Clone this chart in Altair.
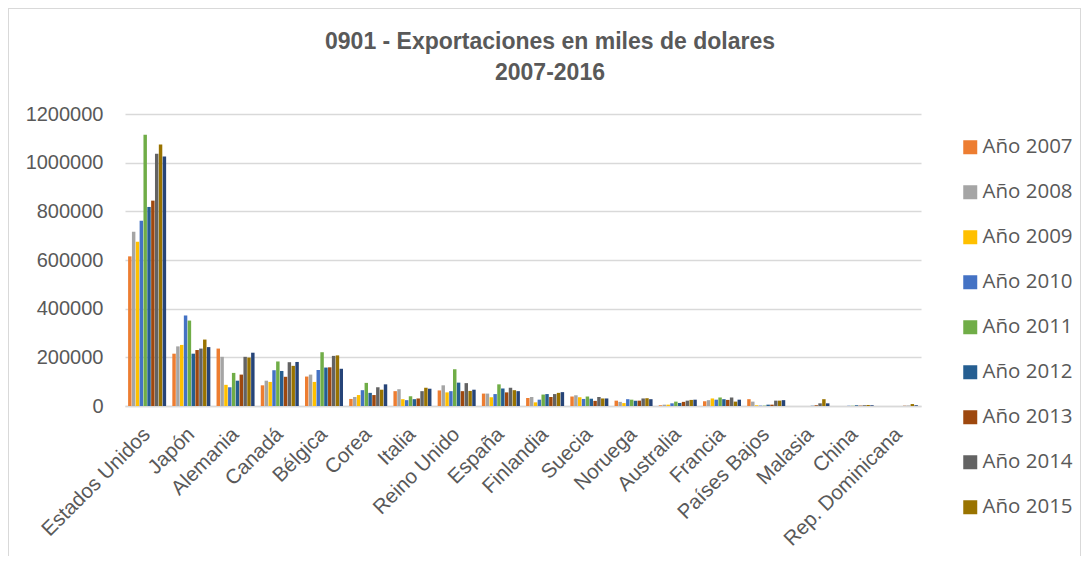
import altair as alt
import pandas as pd

countries = ["Estados Unidos", "Japón", "Alemania", "Canadá", "Bélgica", "Corea",
             "Italia", "Reino Unido", "España", "Finlandia", "Suecia", "Noruega",
             "Australia", "Francia", "Países Bajos", "Malasia", "China", "Rep. Dominicana"]

years = ["Año 2007", "Año 2008", "Año 2009", "Año 2010", "Año 2011",
         "Año 2012", "Año 2013", "Año 2014", "Año 2015", "Año 2016"]

colors = ["#ED7D31", "#A5A5A5", "#FFC000", "#4472C4", "#70AD47",
          "#255E91", "#9E480E", "#636363", "#997300", "#264478"]

title_lines = ["0901 - Exportaciones en miles de dolares", "2007-2016"]

# values per country, years 2007..2016
estados_unidos = [615000, 716000, 675000, 761000, 1115000, 818000, 844000, 1037000, 1075000, 1025000]
japon = [215000, 245000, 251000, 372000, 351000, 215000, 230000, 236000, 273000, 242000]
alemania = [236000, 202000, 87000, 77000, 136000, 104000, 129000, 202000, 199000, 219000]
canada = [85000, 104000, 99000, 147000, 183000, 144000, 120000, 180000, 165000, 181000]
belgica = [121000, 129000, 99000, 148000, 221000, 158000, 159000, 206000, 208000, 153000]
corea = [29000, 37000, 45000, 65000, 95000, 54000, 45000, 77000, 67000, 89000]
italia = [61000, 69000, 28000, 24000, 40000, 28000, 31000, 61000, 75000, 71000]
reino_unido = [64000, 85000, 56000, 61000, 151000, 96000, 61000, 94000, 62000, 67000]
espana = [51000, 51000, 36000, 49000, 89000, 72000, 56000, 75000, 65000, 61000]
finlandia = [33000, 37000, 15000, 26000, 47000, 49000, 37000, 49000, 54000, 57000]
suecia = [39000, 44000, 36000, 29000, 39000, 30000, 21000, 37000, 31000, 31000]
noruega = [22000, 17000, 12000, 28000, 26000, 22000, 22000, 31000, 32000, 28000]
australia = [3000, 5500, 5500, 11000, 18000, 12500, 17000, 22000, 25000, 26000]
francia = [19500, 24000, 31000, 26000, 35000, 28000, 25000, 35000, 18000, 26000]
paises_bajos = [28000, 18000, 3000, 1500, 1500, 5500, 5500, 22000, 22000, 24000]
malasia = [0, 0, 0, 0, 0, 1000, 3000, 11000, 28000, 11000]
china = [0, 0, 0, 1000, 1000, 3000, 1500, 3000, 4000, 3000]
rep_dominicana = [0, 0, 0, 0, 0, 0, 1000, 1000, 8000, 3000]

series = [estados_unidos, japon, alemania, canada, belgica, corea, italia, reino_unido,
          espana, finlandia, suecia, noruega, australia, francia, paises_bajos,
          malasia, china, rep_dominicana]

y_ticks = [0, 200000, 400000, 600000, 800000, 1000000, 1200000]

rows = []
for c, vals in zip(countries, series):
    for yname, v in zip(years, vals):
        rows.append({"pais": c, "anio": yname, "valor": v})
df = pd.DataFrame(rows)

W, H = 796, 292
PAD = {"left": 117, "top": 106, "right": 160, "bottom": 150}
GRAY = "#595959"
BORDER = "#d9d9d9"

bars = alt.Chart(df).mark_bar().encode(
    x=alt.X("pais:N", sort=countries,
            scale=alt.Scale(paddingInner=0.14, paddingOuter=0.07),
            axis=alt.Axis(title=None, labelAngle=-45, labelFontSize=20.5,
                          labelFont="Liberation Sans", labelColor=GRAY,
                          labelAlign="right", labelBaseline="middle",
                          labelPadding=25, ticks=False, labelOverlap=False,
                          domainColor=BORDER, domainWidth=1.5)),
    xOffset=alt.XOffset("anio:N", sort=years, scale=alt.Scale(paddingInner=0.1)),
    y=alt.Y("valor:Q", scale=alt.Scale(domain=[0, 1200000], nice=False),
            axis=alt.Axis(title=None, values=y_ticks, format="d", labelFontSize=20,
                          labelFont="Liberation Sans", labelColor=GRAY,
                          labelPadding=22, ticks=False, domain=False,
                          gridColor=BORDER, gridWidth=1.3)),
    color=alt.Color("anio:N", sort=years,
                    scale=alt.Scale(domain=years, range=colors),
                    legend=alt.Legend(title=None, values=years[:9], orient="none",
                                      legendX=835, legendY=23,
                                      symbolType="square", symbolSize=196,
                                      symbolStrokeWidth=0,
                                      labelFont="Open Sans", labelFontSize=20.5,
                                      labelColor=GRAY, labelOffset=2,
                                      rowPadding=24)),
)

one = pd.DataFrame({"k": [0]})

title1 = alt.Chart(one).mark_text(
    text=title_lines[0], font="Liberation Sans", fontSize=23, fontWeight="bold",
    color=GRAY, align="center", baseline="alphabetic",
).encode(x=alt.value(425), y=alt.value(-65))

title2 = alt.Chart(one).mark_text(
    text=title_lines[1], font="Liberation Sans", fontSize=23, fontWeight="bold",
    color=GRAY, align="center", baseline="alphabetic",
).encode(x=alt.value(425), y=alt.value(-34))

left_b = alt.Chart(one).mark_rule(color=BORDER, strokeWidth=1).encode(
    x=alt.value(-PAD["left"] + 0.5), y=alt.value(-PAD["top"]), y2=alt.value(H + PAD["bottom"]))
right_b = alt.Chart(one).mark_rule(color=BORDER, strokeWidth=1).encode(
    x=alt.value(W + PAD["right"] - 0.5), y=alt.value(-PAD["top"]), y2=alt.value(H + PAD["bottom"]))
top_b = alt.Chart(one).mark_rule(color=BORDER, strokeWidth=1).encode(
    x=alt.value(-PAD["left"]), x2=alt.value(W + PAD["right"]), y=alt.value(-PAD["top"] + 0.5))

chart = alt.layer(bars, title1, title2, left_b, right_b, top_b).properties(
    width=W, height=H,
    padding=PAD,
    autosize=alt.AutoSizeParams(type="none"),
).configure_view(stroke=None)

chart.save("out.html", embed_options={"renderer": "svg", "actions": False})
